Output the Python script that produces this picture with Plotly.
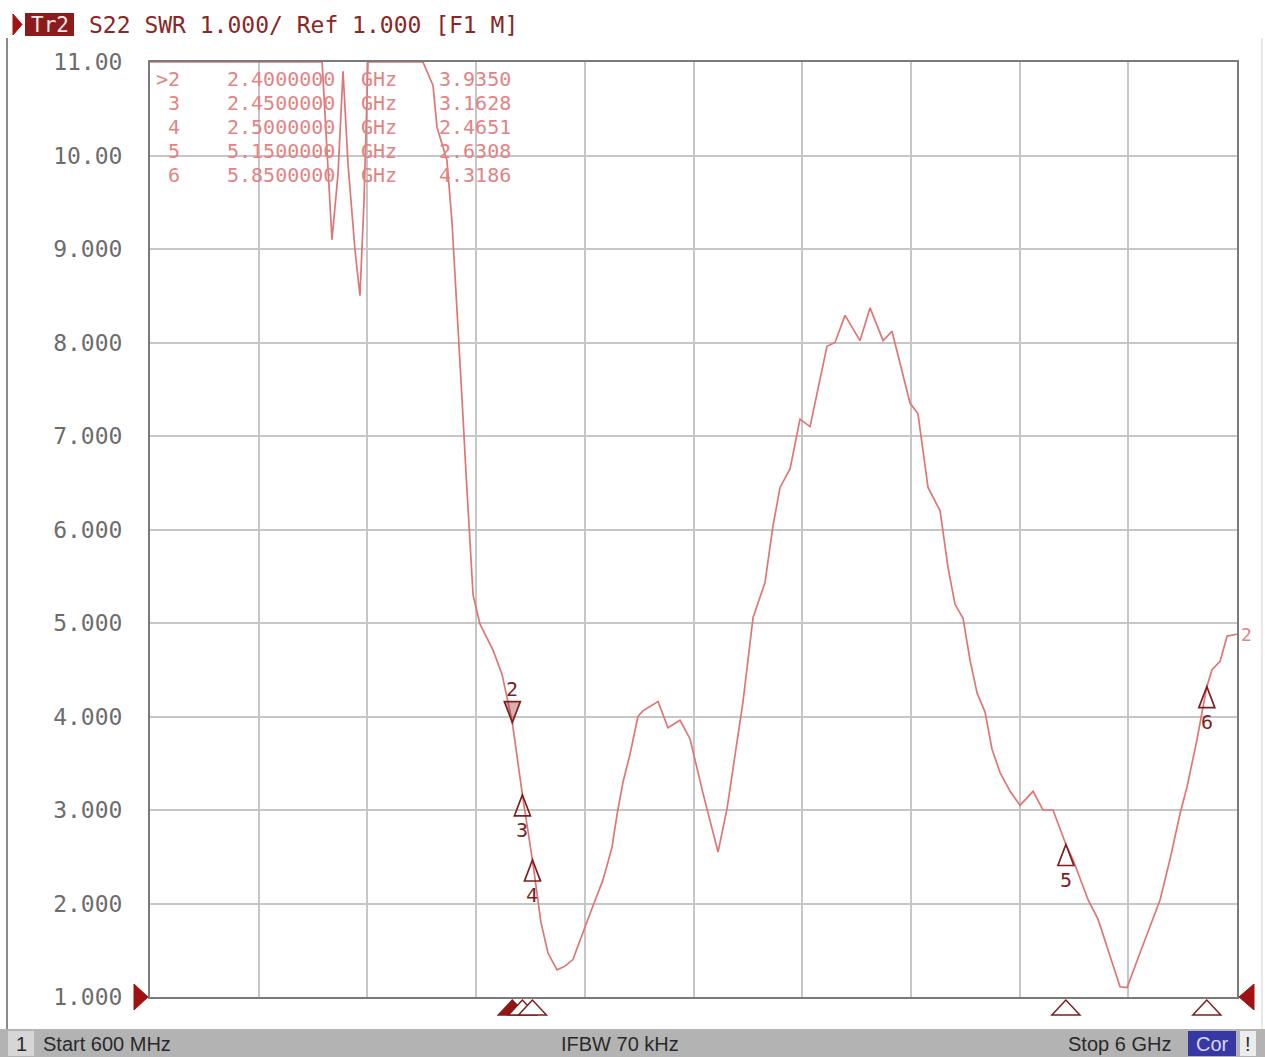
import plotly.graph_objects as go

# ---------------- data ----------------
freq_ghz = [0.6, 1.455, 1.504, 1.534, 1.559, 1.584, 1.618, 1.643, 1.663, 1.683,
            1.956, 2.006, 2.026, 2.075, 2.100, 2.125, 2.150, 2.170, 2.185, 2.205,
            2.239, 2.304, 2.349, 2.40, 2.45, 2.50, 2.542, 2.577, 2.622, 2.662,
            2.701, 2.746, 2.796, 2.850, 2.895, 2.920, 2.950, 2.985, 3.024, 3.049,
            3.124, 3.173, 3.233, 3.283, 3.347, 3.422, 3.467, 3.546, 3.596, 3.655,
            3.695, 3.730, 3.780, 3.829, 3.879, 3.963, 4.003, 4.053, 4.127, 4.177,
            4.242, 4.286, 4.376, 4.415, 4.465, 4.525, 4.564, 4.599, 4.639, 4.674,
            4.709, 4.748, 4.783, 4.823, 4.873, 4.922, 4.987, 5.036, 5.086, 5.15,
            5.185, 5.260, 5.310, 5.419, 5.454, 5.518, 5.618, 5.667, 5.717, 5.752,
            5.801, 5.85, 5.876, 5.916, 5.951, 6.0]
swr = [11.0, 11.0, 9.1, 9.8, 10.9, 9.9, 9.0, 8.5, 9.5, 11.0,
       11.0, 10.75, 10.3, 9.95, 9.3, 8.4, 7.4, 6.6, 6.0, 5.3,
       4.99, 4.71, 4.45, 3.935, 3.163, 2.465, 1.8, 1.47, 1.29, 1.33,
       1.40, 1.65, 1.95, 2.25, 2.6, 2.95, 3.3, 3.6, 4.0, 4.06,
       4.16, 3.88, 3.96, 3.76, 3.18, 2.55, 3.02, 4.16, 5.06, 5.43,
       6.04, 6.45, 6.65, 7.18, 7.1, 7.96, 8.0, 8.29, 8.02, 8.37,
       8.02, 8.12, 7.35, 7.24, 6.45, 6.2, 5.6, 5.2, 5.05, 4.6,
       4.25, 4.05, 3.65, 3.4, 3.2, 3.05, 3.2, 3.0, 3.0, 2.631,
       2.47, 2.04, 1.83, 1.11, 1.1, 1.47, 2.04, 2.47, 2.96, 3.25,
       3.75, 4.319, 4.5, 4.59, 4.86, 4.88]

marker_ids = [2, 3, 4, 5, 6]
marker_freq_ghz = [2.40, 2.45, 2.50, 5.15, 5.85]
marker_swr = [3.9350, 3.1628, 2.4651, 2.6308, 4.3186]
active_marker = 2

y_tick_vals = [1, 2, 3, 4, 5, 6, 7, 8, 9, 10, 11]
y_tick_text = ["1.000", "2.000", "3.000", "4.000", "5.000", "6.000",
               "7.000", "8.000", "9.000", "10.00", "11.00"]
x_grid_ghz = [0.6, 1.14, 1.68, 2.22, 2.76, 3.3, 3.84, 4.38, 4.92, 5.46, 6.0]
x_start_ghz, x_stop_ghz = 0.6, 6.0

trace_tag = "Tr2"
trace_num = "2"
header_text = "S22 SWR 1.000/ Ref 1.000 [F1 M]"
channel_num = "1"
status_start = "Start 600 MHz"
status_ifbw = "IFBW 70 kHz"
status_stop = "Stop 6 GHz"
status_cor = "Cor"
status_warn = "!"

# ---------------- layout helpers (pixel -> paper) ----------------
W, H = 1265, 1057
L, R, T, B = 150, 1237, 62, 997


def PX(x):
    return (x - L) / (R - L)


def PY(y):
    return (B - y) / (B - T)


MONO = "DejaVu Sans Mono"
SANS = "Liberation Sans"
TRACE_COL = "#de7676"
DARK_RED = "#8c1c1c"
MARK_COL = "#7c1f1f"
TABLE_COL = "#e28484"

fig = go.Figure()
fig.add_trace(go.Scatter(x=freq_ghz, y=swr, mode="lines",
                         line=dict(color=TRACE_COL, width=1.7),
                         hoverinfo="skip", showlegend=False))

shapes = []
annotations = []

# marker symbols on trace
for mid, mf, mv in zip(marker_ids, marker_freq_ghz, marker_swr):
    if mid == active_marker:
        path = "M 0 0 L -8 21 L 8 21 Z"
        label_shift = 34
        fill = "rgba(140,28,28,0.35)"
    else:
        path = "M 0 0 L -8 -21 L 8 -21 Z"
        label_shift = -35
        fill = "rgba(255,255,255,0)"
    shapes.append(dict(type="path", xref="x", yref="y", xsizemode="pixel",
                       ysizemode="pixel", xanchor=mf, yanchor=mv, path=path,
                       line=dict(color=MARK_COL, width=1.7), fillcolor=fill,
                       layer="above"))
    annotations.append(dict(x=mf, y=mv, xref="x", yref="y", text=str(mid),
                            showarrow=False, yshift=label_shift,
                            font=dict(family=MONO, size=20, color=MARK_COL)))
    # stimulus indicators under the axis
    bfill = "#9a1212" if mid == active_marker else "white"
    shapes.append(dict(type="path", xref="x", yref="paper", xsizemode="pixel",
                       ysizemode="pixel", xanchor=mf, yanchor=0,
                       path="M 0 -3 L -14 -18 L 14 -18 Z",
                       line=dict(color=MARK_COL, width=1.5), fillcolor=bfill))

# marker table (one text per column so rows stay tight)
tfont = dict(family=MONO, size=20, color=TABLE_COL)
for i, (mid, mf, mv) in enumerate(zip(marker_ids, marker_freq_ghz, marker_swr)):
    prefix = ">" if mid == active_marker else ""
    ry = PY(79 + 24 * i)
    cells = [
        (f"{prefix}{mid}", 181, "right"),
        (f"{mf:.7f}", 281, "center"),
        ("GHz", 379, "center"),
        (f"{mv:.4f}", 475, "center"),
    ]
    for txt, cx, anc in cells:
        annotations.append(dict(x=PX(cx), y=ry, xref="paper", yref="paper",
                                xanchor=anc, yanchor="middle", text=txt,
                                showarrow=False, borderpad=0, font=tfont))

# trace number at right end
annotations.append(dict(x=freq_ghz[-1], y=swr[-1], xref="x", yref="y",
                        text=trace_num, showarrow=False, xanchor="left",
                        xshift=2, font=dict(family=MONO, size=18, color=TABLE_COL)))

# reference level triangles
shapes.append(dict(type="path", xref="paper", yref="paper", xsizemode="pixel",
                   ysizemode="pixel", xanchor=0, yanchor=0,
                   path="M -2 0 L -16 13 L -16 -13 Z",
                   line=dict(color="#a01212", width=1), fillcolor="#a01212"))
shapes.append(dict(type="path", xref="paper", yref="paper", xsizemode="pixel",
                   ysizemode="pixel", xanchor=1, yanchor=0,
                   path="M 2 0 L 17 13 L 17 -13 Z",
                   line=dict(color="#a01212", width=1), fillcolor="#a01212"))

# header
shapes.append(dict(type="path", xref="paper", yref="paper",
                   path=f"M {PX(13)} {PY(14)} L {PX(22)} {PY(24.5)} L {PX(13)} {PY(35)} Z",
                   line=dict(color="#a01212", width=1), fillcolor="#a01212"))
shapes.append(dict(type="rect", xref="paper", yref="paper",
                   x0=PX(25), x1=PX(74), y0=PY(13), y1=PY(36),
                   line=dict(width=0), fillcolor=DARK_RED))
annotations.append(dict(x=PX(49.5), y=PY(24.5), xref="paper", yref="paper",
                        text=trace_tag, showarrow=False, xanchor="center",
                        yanchor="middle",
                        font=dict(family=MONO, size=21, color="#f4e6e6")))
annotations.append(dict(x=PX(87), y=PY(24.5), xref="paper", yref="paper",
                        text=header_text.replace(" ", "&nbsp;"), showarrow=False,
                        xanchor="left", yanchor="middle",
                        font=dict(family=MONO, size=23, color="#8a2626")))

# window border lines
shapes.append(dict(type="line", xref="paper", yref="paper",
                   x0=PX(7), x1=PX(7), y0=PY(38), y1=PY(1029),
                   line=dict(color="#8a8a8a", width=2)))
shapes.append(dict(type="line", xref="paper", yref="paper",
                   x0=PX(1262), x1=PX(1262), y0=PY(38), y1=PY(1029),
                   line=dict(color="#d0d0d0", width=1)))

# status bar
shapes.append(dict(type="rect", xref="paper", yref="paper",
                   x0=PX(0), x1=PX(W), y0=PY(1029), y1=PY(H),
                   line=dict(width=0), fillcolor="#b3b3b3"))
shapes.append(dict(type="rect", xref="paper", yref="paper",
                   x0=PX(8), x1=PX(34), y0=PY(1031), y1=PY(1056),
                   line=dict(width=0), fillcolor="#d6d6d6"))
shapes.append(dict(type="rect", xref="paper", yref="paper",
                   x0=PX(1188), x1=PX(1236), y0=PY(1031), y1=PY(1056),
                   line=dict(width=0), fillcolor="#3838a4"))
shapes.append(dict(type="rect", xref="paper", yref="paper",
                   x0=PX(1240), x1=PX(1256), y0=PY(1031), y1=PY(1056),
                   line=dict(width=0), fillcolor="#ececec"))
sb_font = dict(family=SANS, size=20, color="#2a2a2a")
sb_y = PY(1043.5)
annotations += [
    dict(x=PX(21), y=sb_y, text=channel_num, xanchor="center", font=sb_font),
    dict(x=PX(41), y=sb_y, text=status_start, xanchor="left", font=sb_font),
    dict(x=PX(620), y=sb_y, text=status_ifbw, xanchor="center", font=sb_font),
    dict(x=PX(1173), y=sb_y, text=status_stop, xanchor="right", font=sb_font),
    dict(x=PX(1212), y=sb_y, text=status_cor, xanchor="center",
         font=dict(family=SANS, size=20, color="#d8d8ff")),
    dict(x=PX(1248), y=sb_y, text=status_warn, xanchor="center", font=sb_font),
]
for a in annotations[-6:]:
    a.update(xref="paper", yref="paper", yanchor="middle", showarrow=False)

fig.update_layout(
    width=W, height=H, autosize=False,
    margin=dict(l=L, r=W - R, t=T, b=H - B, pad=0),
    paper_bgcolor="white", plot_bgcolor="white",
    showlegend=False,
    shapes=shapes, annotations=annotations,
    xaxis=dict(range=[x_start_ghz, x_stop_ghz], tickvals=x_grid_ghz,
               showticklabels=False, ticks="", showgrid=True,
               gridcolor="#c6c6c6", gridwidth=2, zeroline=False,
               showline=True, linecolor="#7a7a7a", linewidth=2, mirror=True,
               layer="below traces", fixedrange=True),
    yaxis=dict(range=[1, 11], tickvals=y_tick_vals, ticktext=y_tick_text,
               ticks="", showgrid=True, gridcolor="#c6c6c6", gridwidth=2,
               zeroline=False, showline=True, linecolor="#7a7a7a", linewidth=2,
               mirror=True, layer="below traces", ticklabelstandoff=21,
               tickfont=dict(family=MONO, size=23, color="#6c6c6c"),
               fixedrange=True),
)

fig.write_html("out.html", config={"displayModeBar": False},
               post_script="document.body.style.margin='0';document.body.style.overflow='hidden';")
